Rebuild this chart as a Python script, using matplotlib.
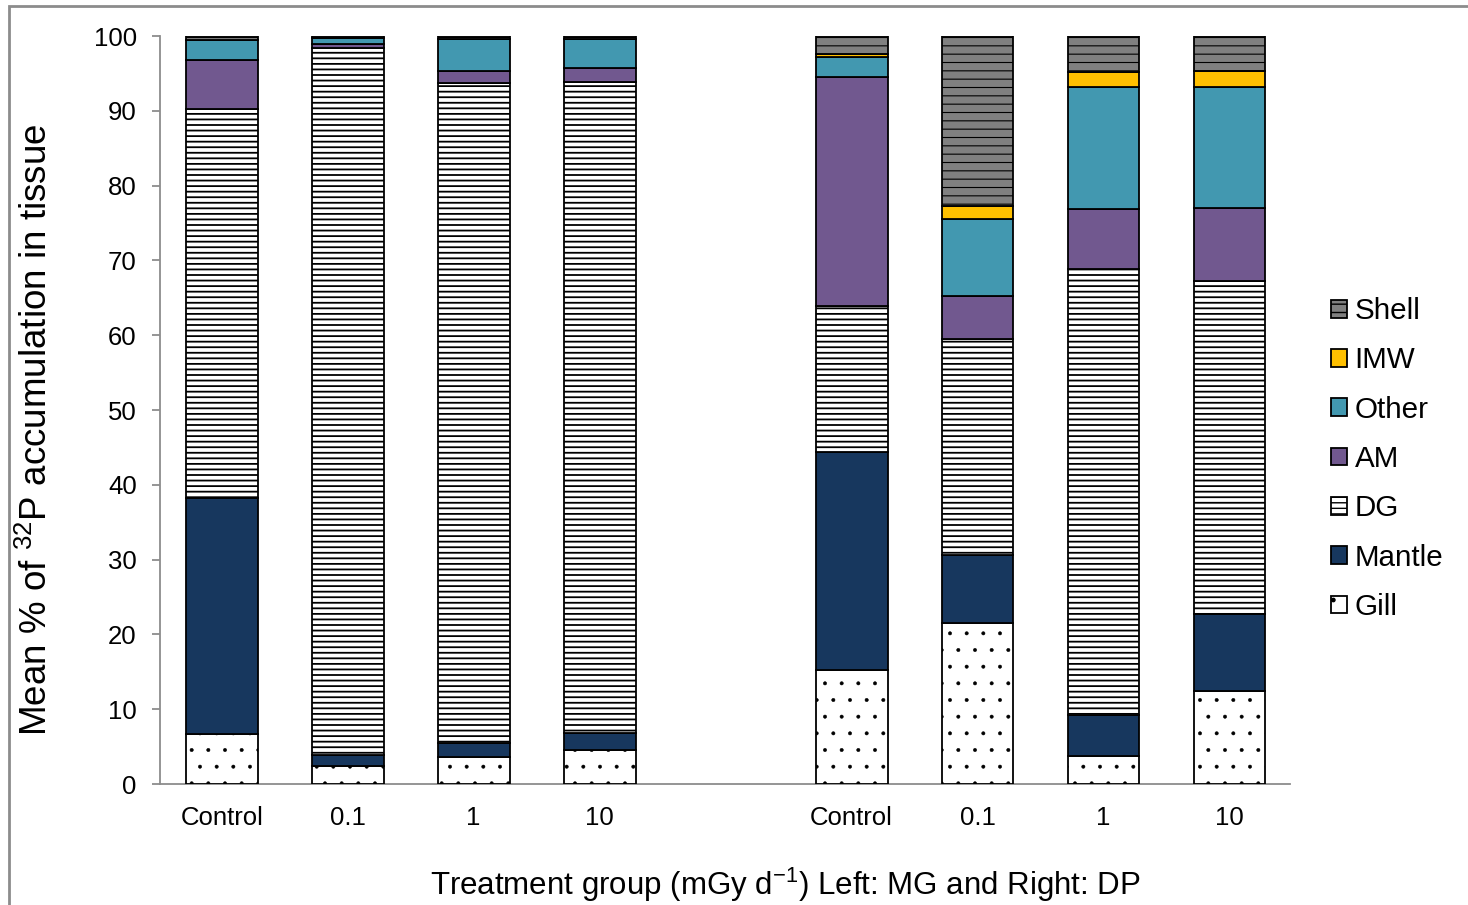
import numpy as np
import matplotlib.pyplot as plt
from matplotlib.patches import Rectangle

plt.rcParams['font.family'] = ['Liberation Sans', 'DejaVu Sans']
plt.rcParams['mathtext.fontset'] = 'custom'
plt.rcParams['mathtext.rm'] = 'Liberation Sans'
plt.rcParams['mathtext.it'] = 'Liberation Sans'
plt.rcParams['hatch.color'] = 'black'

groups = ['Control', '0.1', '1', '10', 'Control', '0.1', '1', '10']
xpos = [0, 1, 2, 3, 5, 6, 7, 8]

# segment sizes (% of 32P), left 4 = MG, right 4 = DP
gill   = [6.7, 2.4, 3.6, 4.5, 15.2, 21.5, 3.7, 12.4]
mantle = [31.5, 1.5, 1.9, 2.3, 29.2, 9.1, 5.5, 10.3]
dg     = [52.0, 94.5, 88.2, 87.1, 19.5, 28.9, 59.7, 44.5]
am     = [6.6, 0.5, 1.6, 1.8, 30.6, 5.7, 8.0, 9.8]
other  = [2.6, 0.8, 4.3, 3.9, 2.7, 10.3, 16.3, 16.2]
imw    = [0.1, 0.0, 0.0, 0.0, 0.4, 1.8, 2.0, 2.1]
shell  = [0.5, 0.3, 0.4, 0.4, 2.4, 22.7, 4.8, 4.7]

# name, values, colour, hatch, hatch line width
series = [
    ('Gill', gill, 'white', '.', 0.35),
    ('Mantle', mantle, '#17375E', None, 1.0),
    ('DG', dg, 'white', '---', 1.3),
    ('AM', am, '#71588F', None, 1.0),
    ('Other', other, '#4298B0', None, 1.0),
    ('IMW', imw, '#FFC000', None, 1.0),
    ('Shell', shell, '#808080', '--', 0.8),
]

fig = plt.figure(figsize=(14.68, 9.05), dpi=100)
ax = fig.add_axes([160/1468, 1-784/905, (1290-160)/1468, (784-36)/905])

bottom = np.zeros(len(xpos))
for name, vals, col, hatch, hlw in series:
    with plt.rc_context({'hatch.linewidth': hlw}):
        ax.bar(xpos, vals, width=0.57, bottom=bottom, color=col, edgecolor='black',
               linewidth=1.3, hatch=hatch, label=name, zorder=3)
    bottom += np.array(vals)

ax.set_xlim(-0.49, 8.48)
ax.set_ylim(0, 100)
ax.set_yticks(range(0, 101, 10))
ax.set_xticks(xpos)
ax.set_xticklabels(groups)
ax.tick_params(axis='y', labelsize=18.5, color='#8c8c8c', length=5.8, width=1.3, pad=11)
ax.tick_params(axis='x', labelsize=18.5, length=0, pad=16)
for s in ['top', 'right']:
    ax.spines[s].set_visible(False)
for s in ['left', 'bottom']:
    ax.spines[s].set_color('#8c8c8c')
    ax.spines[s].set_linewidth(1.3)

fig.text(37/1468, 1-430/905, 'Mean % of $^{32}$P accumulation in tissue', fontsize=26.5,
         rotation=90, ha='center', va='center')
fig.text(785/1468, 1-885/905, 'Treatment group (mGy d$^{-1}$) Left: MG and Right: DP',
         fontsize=22.5, ha='center', va='center')

h, l = ax.get_legend_handles_labels()
fig.legend(h[::-1], l[::-1], loc='center left', bbox_to_anchor=(1331/1468, 1-459/905),
           frameon=False, fontsize=21.3, handlelength=0.55, handleheight=0.55,
           handletextpad=0.25, labelspacing=0.72, borderaxespad=0, borderpad=0)

fig.patches.append(Rectangle((9/1468, -0.1), 1.2, 0.1+1-6/905, transform=fig.transFigure,
                             fill=False, edgecolor='#8c8c8c', linewidth=2))

fig.savefig('out.png', dpi=100)
